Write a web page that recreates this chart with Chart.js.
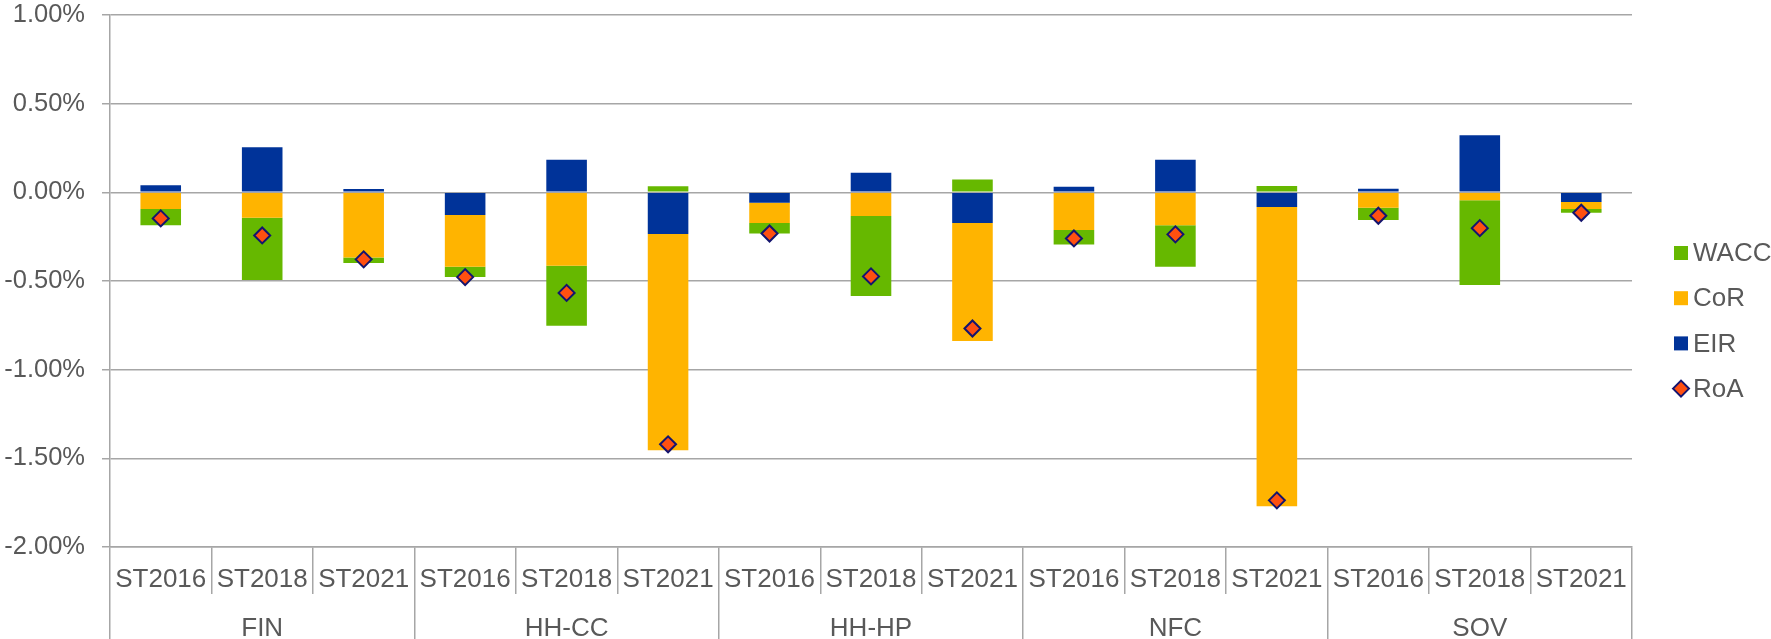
<!DOCTYPE html>
<html>
<head>
<meta charset="utf-8">
<script src="https://cdn.jsdelivr.net/npm/chart.js@4/dist/chart.umd.min.js"></script>
<style>
  html, body { margin: 0; padding: 0; background: #fff; }
  #wrap { width: 1771px; height: 639px; }
</style>
</head>
<body>
<div id="wrap"><canvas id="roaChart" width="1771" height="639"></canvas></div>
<script>
// stress test vintages and portfolios
const vintages = ['ST2016', 'ST2018', 'ST2021'];
const portfolios = ['FIN', 'HH-CC', 'HH-HP', 'NFC', 'SOV'];
const categories = portfolios.flatMap(() => vintages);

// contributions in %
const eir  = [0.040, 0.254, 0.019, -0.128, 0.184, -0.235, -0.059, 0.111, -0.173, 0.032, 0.184, -0.083, 0.020, 0.322, -0.055];
const cor  = [-0.094, -0.143, -0.367, -0.292, -0.414, -1.220, -0.114, -0.134, -0.665, -0.213, -0.185, -1.687, -0.087, -0.045, -0.039];
const wacc = [-0.091, -0.352, -0.032, -0.058, -0.339, 0.034, -0.059, -0.450, 0.073, -0.081, -0.235, 0.036, -0.069, -0.477, -0.021];
const roa  = [-0.147, -0.243, -0.378, -0.478, -0.567, -1.421, -0.232, -0.474, -0.768, -0.260, -0.237, -1.737, -0.132, -0.202, -0.115];

const yTicks = [-2, -1.5, -1, -0.5, 0, 0.5, 1];

const FONT = "'Liberation Sans', Arial, sans-serif";
const TXT = '#595959';
const GRID = '#a6a6a6';

// legend on the right, in Excel order
const legendPlugin = {
    id: 'sideLegend',
    afterDraw(chart) {
        const ctx = chart.ctx;
        const order = ['WACC', 'CoR', 'EIR', 'RoA'];
        const x0 = 1674, y0 = 253, gap = 45.2;
        ctx.save();
        ctx.font = '26px ' + FONT;
        ctx.textBaseline = 'middle';
        order.forEach((name, i) => {
            const ds = chart.data.datasets.find(d => d.label === name);
            const cy = y0 + i * gap;
            if (ds.type === 'line') {
                ctx.beginPath();
                ctx.moveTo(x0 - 1, cy);
                ctx.lineTo(x0 + 7, cy - 8);
                ctx.lineTo(x0 + 15, cy);
                ctx.lineTo(x0 + 7, cy + 8);
                ctx.closePath();
                ctx.fillStyle = ds.backgroundColor;
                ctx.fill();
                ctx.lineWidth = 2;
                ctx.strokeStyle = ds.borderColor;
                ctx.stroke();
            } else {
                ctx.fillStyle = ds.backgroundColor;
                ctx.fillRect(x0, cy - 7, 14, 14);
            }
            ctx.fillStyle = TXT;
            ctx.fillText(name, x0 + 19, cy + 1);
        });
        ctx.restore();
    }
};

const barOpts = { type: 'bar', stack: 'parts', barPercentage: 0.4, categoryPercentage: 1, order: 1 };

new Chart(document.getElementById('roaChart'), {
    data: {
        labels: categories,
        datasets: [
            { ...barOpts, label: 'EIR', data: eir, backgroundColor: '#003399' },
            { ...barOpts, label: 'CoR', data: cor, backgroundColor: '#ffb400' },
            { ...barOpts, label: 'WACC', data: wacc, backgroundColor: '#66b800' },
            {
                type: 'line', label: 'RoA', data: roa, stack: 'roa', order: 0,
                showLine: false, pointStyle: 'rectRot', pointRadius: 8,
                backgroundColor: '#ff5010', borderColor: '#14146e', pointBorderWidth: 2
            }
        ]
    },
    options: {
        responsive: false,
        devicePixelRatio: 1,
        animation: false,
        layout: { padding: { left: 0, right: 139, top: 0, bottom: 0 } },
        plugins: { legend: { display: false }, tooltip: { enabled: false } },
        scales: {
            x: {
                stacked: true,
                offset: true,
                grid: { offset: true, drawOnChartArea: false, tickLength: 47, color: GRID, lineWidth: 1.5 },
                border: { display: true, color: GRID, width: 1.5 },
                ticks: { color: TXT, font: { family: FONT, size: 26 }, padding: -30, maxRotation: 0, autoSkip: false },
                afterFit(s) { s.height = 47; }
            },
            x2: {
                type: 'category',
                position: 'bottom',
                labels: portfolios,
                offset: true,
                grid: { offset: true, drawOnChartArea: false, tickLength: 46, color: GRID, lineWidth: 1.5 },
                border: { display: false },
                ticks: { color: TXT, font: { family: FONT, size: 26 }, padding: -27, maxRotation: 0, autoSkip: false },
                afterFit(s) { s.height = 45; }
            },
            y: {
                stacked: true,
                min: yTicks[0],
                max: yTicks[yTicks.length - 1],
                afterBuildTicks(s) { s.ticks = yTicks.map(v => ({ value: v })); },
                grid: { color: GRID, lineWidth: 1.5, tickLength: 8 },
                border: { display: true, color: GRID, width: 1.5 },
                ticks: {
                    color: TXT, font: { family: FONT, size: 25.5 }, padding: 17,
                    callback: v => v.toFixed(2) + '%'
                },
                afterFit(s) { s.width = 110; s.paddingTop = 15; s.paddingBottom = 0; }
            }
        }
    },
    plugins: [legendPlugin]
});
</script>
</body>
</html>
